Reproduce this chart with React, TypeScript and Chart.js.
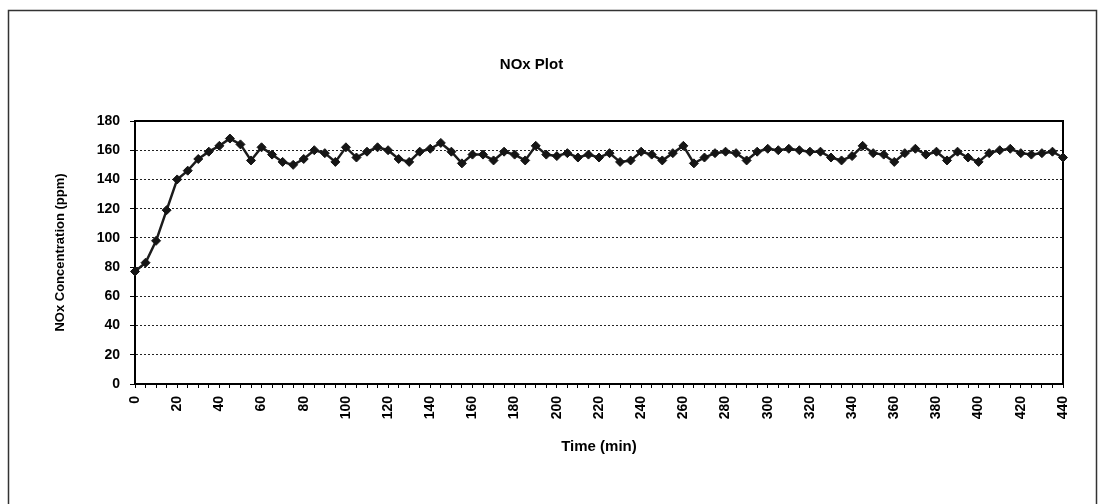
import React, { useEffect, useRef } from 'react';
import { Chart, registerables } from 'chart.js';

Chart.register(...registerables);

const times: string[] = [
  '0', '5', '10', '15', '20', '25', '30', '35', '40', '45',
  '50', '55', '60', '65', '70', '75', '80', '85', '90', '95',
  '100', '105', '110', '115', '120', '125', '130', '135', '140', '145',
  '150', '155', '160', '165', '170', '175', '180', '185', '190', '195',
  '200', '205', '210', '215', '220', '225', '230', '235', '240', '245',
  '250', '255', '260', '265', '270', '275', '280', '285', '290', '295',
  '300', '305', '310', '315', '320', '325', '330', '335', '340', '345',
  '350', '355', '360', '365', '370', '375', '380', '385', '390', '395',
  '400', '405', '410', '415', '420', '425', '430', '435', '440',
];

const noxValues: number[] = [
  77, 83, 98, 119, 140, 146, 154, 159, 163, 168,
  164, 153, 162, 157, 152, 150, 154, 160, 158, 152,
  162, 155, 159, 162, 160, 154, 152, 159, 161, 165,
  159, 151, 157, 157, 153, 159, 157, 153, 163, 157,
  156, 158, 155, 157, 155, 158, 152, 153, 159, 157,
  153, 158, 163, 151, 155, 158, 159, 158, 153, 159,
  161, 160, 161, 160, 159, 159, 155, 153, 156, 163,
  158, 157, 152, 158, 161, 157, 159, 153, 159, 155,
  152, 158, 160, 161, 158, 157, 158, 159, 155,
];

const xTickLabels: string[] = [
  '0', '20', '40', '60', '80', '100', '120', '140', '160', '180', '200', '220',
  '240', '260', '280', '300', '320', '340', '360', '380', '400', '420', '440',
];

const yMin = 0;
const yMax = 180;
const yStep = 20;

const FONT = 'Arial, "Liberation Sans", Helvetica, sans-serif';

export default function App() {
  const ref = useRef<HTMLCanvasElement | null>(null);

  useEffect(() => {
    if (!ref.current) return;

    const framePlugin = {
      id: 'frames',
      beforeDraw(chart: any) {
        const ctx = chart.ctx;
        ctx.save();
        ctx.fillStyle = '#ffffff';
        ctx.fillRect(0, 0, chart.width, chart.height);
        ctx.strokeStyle = '#333333';
        ctx.lineWidth = 1.5;
        ctx.beginPath();
        ctx.moveTo(8.5, 504);
        ctx.lineTo(8.5, 10.5);
        ctx.lineTo(1096.5, 10.5);
        ctx.lineTo(1096.5, 504);
        ctx.stroke();
        ctx.restore();
      },
      beforeDatasetsDraw(chart: any) {
        const { ctx, chartArea } = chart;
        ctx.save();
        ctx.strokeStyle = '#000000';
        ctx.lineWidth = 2;
        ctx.strokeRect(chartArea.left, chartArea.top, chartArea.right - chartArea.left, chartArea.bottom - chartArea.top);
        ctx.restore();
      },
    };

    const chart = new Chart(ref.current, {
      type: 'line',
      data: {
        labels: times,
        datasets: [
          {
            label: 'NOx',
            data: noxValues,
            borderColor: '#1c1c1c',
            borderWidth: 2.5,
            pointStyle: 'rectRot',
            pointRadius: 4.5,
            pointBackgroundColor: '#151515',
            pointBorderColor: '#151515',
            pointBorderWidth: 1,
            tension: 0,
            clip: false as any,
          },
        ],
      },
      options: {
        responsive: false,
        animation: false,
        layout: { padding: { left: 0, right: 39, top: 0, bottom: 0 } },
        plugins: {
          legend: { display: false },
          tooltip: { enabled: false },
          title: {
            display: true,
            text: 'NOx Plot',
            color: '#000',
            font: { family: FONT, size: 15, weight: 'bold' },
            padding: { top: 56, bottom: 47 },
          },
        },
        scales: {
          x: {
            type: 'category',
            afterFit: (scale: any) => {
              scale.height = 120;
            },
            ticks: {
              autoSkip: false,
              maxRotation: 90,
              minRotation: 90,
              padding: 8,
              color: '#000',
              font: { family: FONT, size: 14, weight: 'bold' },
              callback: function (this: any, _v: any, idx: number) {
                const lab = times[idx];
                return xTickLabels.includes(lab) ? lab : '';
              },
            },
            grid: {
              drawOnChartArea: false,
              drawTicks: true,
              tickLength: 4,
              color: '#000',
              tickColor: '#000',
            },
            border: { display: true, color: '#000', width: 2 },
            title: {
              display: true,
              text: 'Time (min)',
              color: '#000',
              font: { family: FONT, size: 15, weight: 'bold' },
              padding: { top: 4, bottom: 48 },
            },
          },
          y: {
            min: yMin,
            max: yMax,
            afterFit: (scale: any) => {
              scale.width = 135;
            },
            ticks: {
              stepSize: yStep,
              padding: 10,
              color: '#000',
              font: { family: FONT, size: 14, weight: 'bold' },
            },
            grid: {
              color: '#222',
              lineWidth: 1,
              drawTicks: true,
              tickLength: 5,
              tickColor: '#000',
              tickBorderDash: [],
            },
            border: { display: true, color: '#000', width: 2, dash: [2, 2] },
            title: {
              display: true,
              text: 'NOx Concentration (ppm)',
              color: '#000',
              font: { family: FONT, size: 13, weight: 'bold' },
              padding: { top: 53, bottom: 4 },
            },
          },
        },
      },
      plugins: [framePlugin],
    });

    return () => chart.destroy();
  }, []);

  return (
    <div style={{ position: 'absolute', left: 0, top: 0, width: 1102, height: 504 }}>
      <canvas ref={ref} width={1102} height={504} style={{ display: 'block' }} />
    </div>
  );
}
